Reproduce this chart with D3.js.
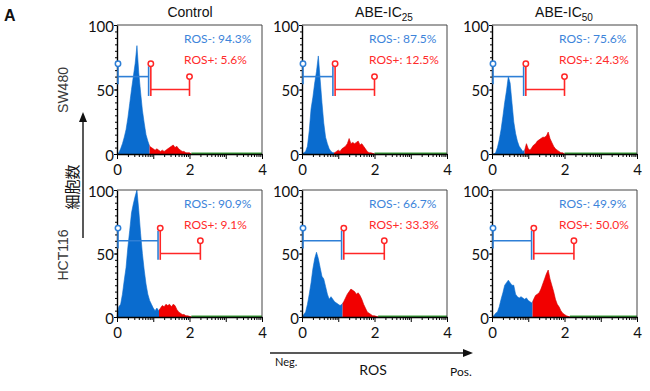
<!DOCTYPE html>
<html><head><meta charset="utf-8">
<script src="https://cdn.jsdelivr.net/npm/d3@7"></script>
<style>body{margin:0;background:#fff}svg{display:block}</style>
</head><body><svg id="c" width="650" height="391"></svg>
<script>
// ---------------- data ----------------
const cellLines = ["SW480", "HCT116"];
const treatmentNames = ["Control", "ABE-IC", "ABE-IC"];
const treatmentSubs = ["", "25", "50"];
const rosNegPct = [94.3, 87.5, 75.6, 90.9, 66.7, 49.9];
const rosPosPct = [5.6, 12.5, 24.3, 9.1, 33.3, 50.0];
const gateSplit = [0.9, 0.88, 0.9, 1.16, 1.12, 1.12];
const gateEnd = [2.0, 2.0, 2.0, 2.3, 2.27, 2.26];
const binStep = 0.05;
const histSW480Control = [0,1,4,8,13,19,28,39,50,60,70,84,63,48,34,24,15,10,6,5,4,3,4,3,2,3,2,3,4,5,6,7,5,6,4,3,2,2,1,1,1,0];
const histSW480IC25 = [0,1,2,6,18,35,44,55,64,76,58,40,24,13,8,4,2,1,1,2,3,2,4,5,6,8,12,8,9,8,9,10,7,8,6,4,2,1,1,0.5,0];
const histSW480IC50 = [0,0,1,5,11,19,29,40,49,60,55,40,25,16,10,6,4,2,3,8,4,3,5,7,8,10,11,12,13,13,14,17,12,9,6,4,3,2,1,1,0];
const histHCT116Control = [0,8,10,18,29,39,55,68,82,89,95,100,84,66,50,37,26,18,13,10,7,5,7,5,7,9,8,10,9,10,8,10,9,6,4,3,2,2,1,1,0.5,0];
const histHCT116IC25 = [0,2,4,10,18,27,38,46,51,46,39,32,30,24,18,14,16,14,12,11,10,9,10,12,15,18,20,22,21,20,18,19,17,14,10,7,4,3,2,1,1,0.5,0];
const histHCT116IC50 = [0,1,3,4,8,14,19,25,27,29,27,25,25,18,16,15,16,15,14,15,13,12,11,14,17,18,19,22,26,30,34,37,30,25,20,14,10,8,5,3,2,1,0.5,0];
const histograms = [histSW480Control, histSW480IC25, histSW480IC50, histHCT116Control, histHCT116IC25, histHCT116IC50];
const xLabelTicks = [0, 2, 4];
const yLabelTicks = [0, 50, 100];

// ---------------- layout ----------------
const panelLeft = [117, 302, 492], panelW = 145;
const rowTop = [25, 190], rowH = [129, 127];
const titleX = [190, 384, 564];
const C = {blue:"#0a6ccf", red:"#f20000", green:"#3a9e3a", gBlue:"#2e7fd6", gRed:"#ff2626", tBlue:"#3d84da", tRed:"#ff2b2b"};
const numFont = "Lato, 'Open Sans', sans-serif";

const svg = d3.select("#c");
svg.append("rect").attr("width",650).attr("height",391).attr("fill","#fff");

svg.append("text").attr("x",4).attr("y",21).text("A")
  .attr("font-family","Liberation Sans, Arial, sans-serif").attr("font-weight","bold").attr("font-size",16).attr("fill","#111");

treatmentNames.forEach((t,i)=>{
  const tx = svg.append("text").attr("x",titleX[i]).attr("y",17).attr("text-anchor","middle")
    .attr("font-family","Liberation Sans, Arial, sans-serif").attr("font-size",14).attr("fill","#111");
  tx.append("tspan").text(t);
  if (treatmentSubs[i]) tx.append("tspan").attr("font-size",10).attr("dy",4).text(treatmentSubs[i]);
});

const defs = svg.append("defs");

for (let r=0;r<2;r++) for (let c=0;c<3;c++) {
  const k = r*3+c, h = rowH[r];
  const data = histograms[k];
  const g = svg.append("g").attr("transform",`translate(${panelLeft[c]},${rowTop[r]})`);
  const x = d3.scaleLinear().domain([0,4]).range([0,panelW]);
  const y = d3.scaleLinear().domain([0,100]).range([h,0]);

  defs.append("clipPath").attr("id",`cb${k}`).append("rect")
    .attr("x",-1).attr("y",-5).attr("width",x(gateSplit[k])+1).attr("height",h+5);
  defs.append("clipPath").attr("id",`cr${k}`).append("rect")
    .attr("x",x(gateSplit[k])).attr("y",-5).attr("width",panelW-x(gateSplit[k])).attr("height",h+5);

  const area = d3.area().x((d,i)=>x(i*binStep)).y0(y(0)).y1(d=>y(d));
  const lastX = (data.length-1)*binStep;
  g.append("line").attr("x1",x(lastX)).attr("x2",x(4)).attr("y1",y(0)-0.7).attr("y2",y(0)-0.7)
    .attr("stroke",C.green).attr("stroke-width",1.5);
  g.append("path").datum(data).attr("d",area).attr("fill",C.blue).attr("stroke",C.blue).attr("stroke-width",0.6).attr("clip-path",`url(#cb${k})`);
  g.append("path").datum(data).attr("d",area).attr("fill",C.red).attr("stroke","#d00000").attr("stroke-width",0.6).attr("clip-path",`url(#cr${k})`);

  g.append("path").attr("d",`M0,0H${panelW}V${h}`).attr("fill","none").attr("stroke","#444").attr("stroke-width",1);

  const yMinor = g.append("g").call(d3.axisLeft(y).tickValues(d3.range(0,101,5)).tickSize(2).tickFormat(""));
  yMinor.select(".domain").remove();
  const yAx = g.append("g").call(d3.axisLeft(y).tickValues(yLabelTicks).tickSize(3).tickPadding(0).tickSizeOuter(0));
  yAx.selectAll("text").attr("font-family",numFont).attr("font-size",15).attr("fill","#111").attr("dy","0.42em");
  yAx.select(".domain").attr("stroke-width",1.4);

  const minorX = d3.range(0,4).flatMap(d=>d3.range(2,10).map(m=>d+Math.log10(m)));
  const xMinor = g.append("g").attr("transform",`translate(0,${h})`).call(d3.axisBottom(x).tickValues(minorX).tickSize(3).tickFormat(""));
  xMinor.select(".domain").remove();
  const xAx = g.append("g").attr("transform",`translate(0,${h})`)
    .call(d3.axisBottom(x).tickValues([0,1,2,3,4]).tickSize(5).tickPadding(5).tickSizeOuter(0)
      .tickFormat(d=>xLabelTicks.includes(d)?d:""));
  xAx.selectAll("text").attr("font-family",numFont).attr("font-size",15).attr("fill","#111");
  xAx.select(".domain").attr("stroke-width",1.4);

  // gates
  const gy = y(60), ry = y(50);
  const gateLine = (x1,y1,x2,y2,col)=>g.append("line").attr("x1",x1).attr("y1",y1).attr("x2",x2).attr("y2",y2)
    .attr("stroke",col).attr("stroke-width",1.6);
  const marker = (cx,cy,col)=>g.append("circle").attr("cx",cx).attr("cy",cy).attr("r",2.7)
    .attr("fill","#fff").attr("stroke",col).attr("stroke-width",1.5);
  const bx0 = x(0)+1, bx1 = x(gateSplit[k])-1, rx0 = x(gateSplit[k])+1.2, rx1 = x(gateEnd[k]);
  gateLine(bx0,gy,bx1,gy,C.gBlue);
  gateLine(bx0,y(54),bx0,y(68),C.gBlue);
  gateLine(bx1,y(45),bx1,y(68),C.gBlue);
  marker(bx0,y(70),C.gBlue);
  gateLine(rx0,ry,rx1,ry,C.gRed);
  gateLine(rx0,y(45),rx0,y(68),C.gRed);
  gateLine(rx1,y(45),rx1,y(58),C.gRed);
  marker(rx0,y(70),C.gRed); marker(rx1,y(60),C.gRed);

  g.append("text").attr("x",67).attr("y",17.5).attr("font-family",numFont).attr("font-size",12).attr("fill",C.tBlue)
    .text(`ROS-: ${rosNegPct[k].toFixed(1)}%`);
  g.append("text").attr("x",67).attr("y",38.5).attr("font-family",numFont).attr("font-size",12).attr("fill",C.tRed)
    .text(`ROS+: ${rosPosPct[k].toFixed(1)}%`);
}

const rowLabelY = [90, 255];
cellLines.forEach((n,i)=>{
  svg.append("text").attr("transform",`translate(63,${rowLabelY[i]}) rotate(-90)`).attr("text-anchor","middle")
    .attr("dominant-baseline","central").attr("font-family","Liberation Sans, Arial, sans-serif").attr("font-size",14)
    .attr("fill","#3a3a3a").text(n);
});
svg.append("text").attr("transform","translate(71,187) rotate(-90)").attr("text-anchor","middle")
  .attr("dominant-baseline","central").attr("font-family","'Noto Sans CJK JP', sans-serif").attr("font-size",15)
  .attr("fill","#111").text("細胞数");

svg.append("line").attr("x1",83).attr("y1",238).attr("x2",83).attr("y2",121).attr("stroke","#222").attr("stroke-width",1.5);
svg.append("path").attr("d","M83,112L79,122L87,122Z").attr("fill","#111");
svg.append("line").attr("x1",270).attr("y1",353).attr("x2",464).attr("y2",353).attr("stroke","#222").attr("stroke-width",1.5);
svg.append("path").attr("d","M473,353L463,349L463,357Z").attr("fill","#111");

svg.append("text").attr("x",275).attr("y",366).attr("font-family",numFont).attr("font-size",11).attr("fill","#111").text("Neg.");
svg.append("text").attr("x",373).attr("y",375).attr("text-anchor","middle").attr("font-family",numFont).attr("font-size",14).attr("fill","#111").text("ROS");
svg.append("text").attr("x",450).attr("y",376).attr("font-family",numFont).attr("font-size",12).attr("fill","#111").text("Pos.");
</script></body></html>
